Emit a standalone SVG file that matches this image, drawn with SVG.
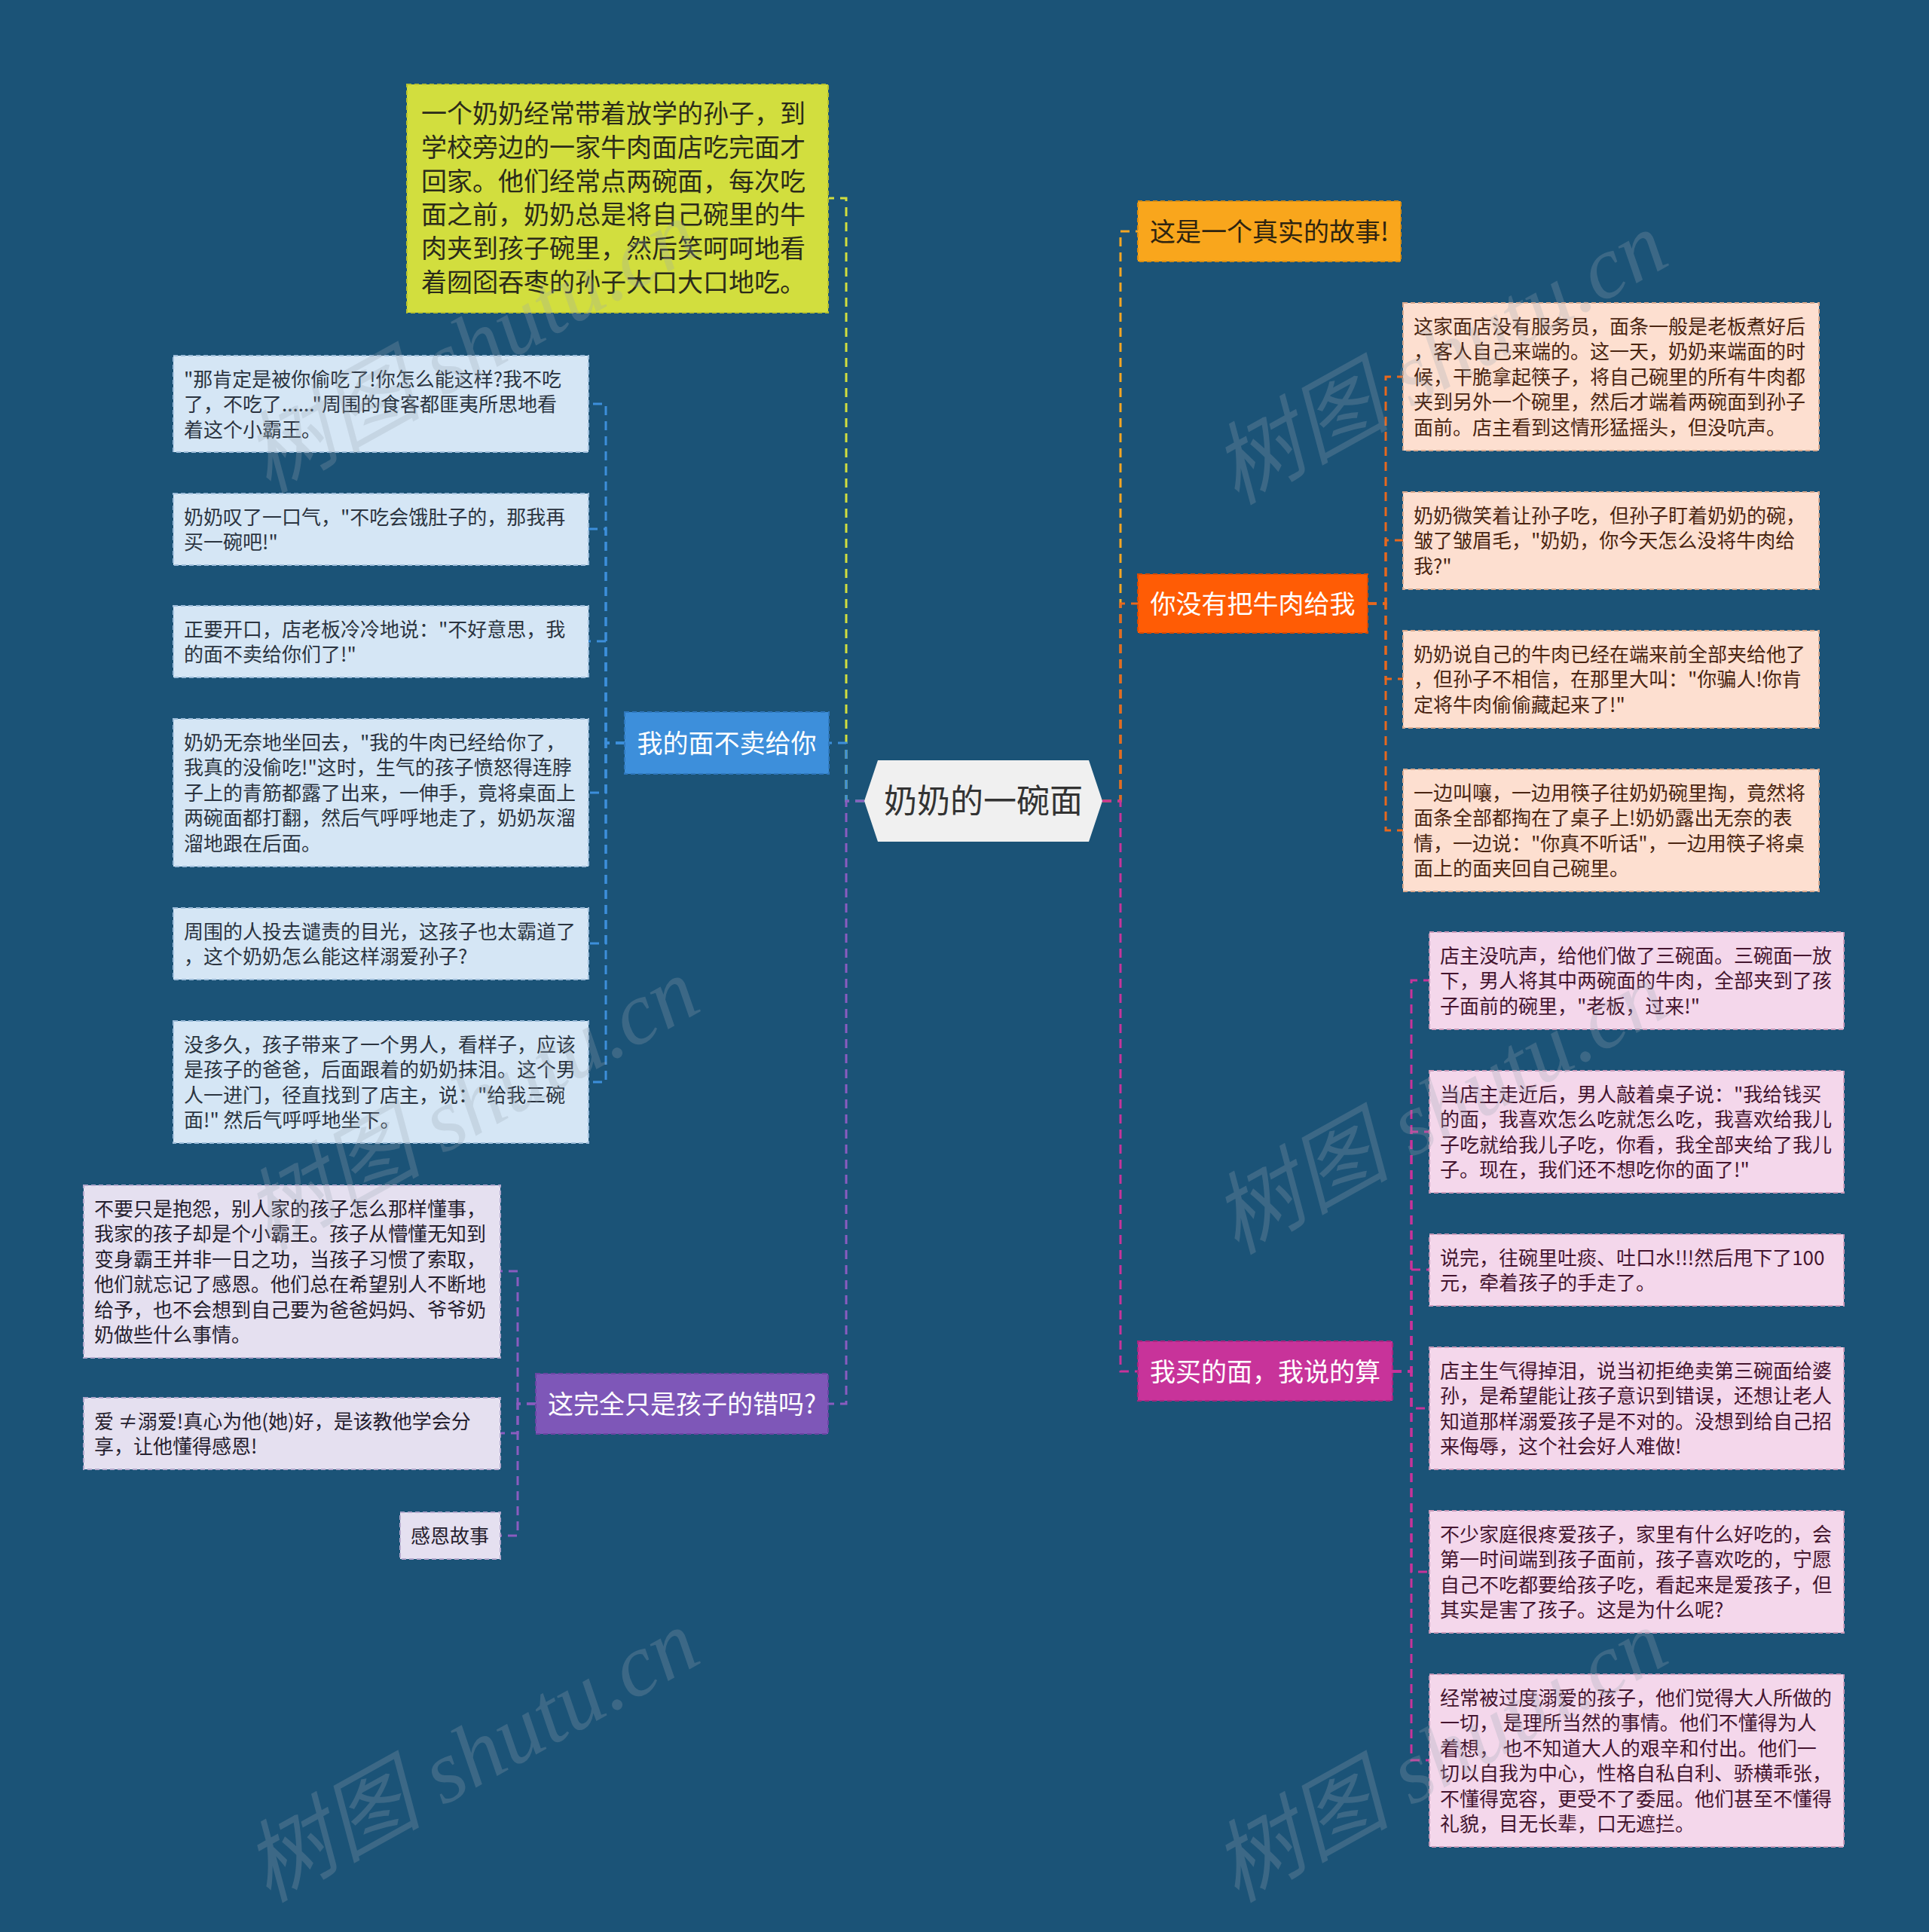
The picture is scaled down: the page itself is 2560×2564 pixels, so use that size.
<svg xmlns="http://www.w3.org/2000/svg" width="2560" height="2564" viewBox="0 0 2560 2564">
<style>
text{font-family:"Noto Sans CJK SC","Noto Sans",sans-serif;}
.leaf{font-size:26px;}
.br{font-size:34px;}
.conn path{fill:none;stroke-width:3;stroke-dasharray:12 8;}
.lb{fill:#D5E6F5;stroke:#9DBCD9;stroke-width:2;stroke-dasharray:6 4;}
.lp{fill:#FDDFD0;stroke:#D9A98E;stroke-width:2;stroke-dasharray:6 4;}
.lk{fill:#F4D7EB;stroke:#C99AB9;stroke-width:2;stroke-dasharray:6 4;}
.ll{fill:#E5E0F0;stroke:#B2A8CC;stroke-width:2;stroke-dasharray:6 4;}
.tb{fill:#2b3440;}
.tp{fill:#4a2511;}
.tk{fill:#44152f;}
.tl{fill:#25202e;}
.wm{font-family:"Liberation Serif","Noto Sans CJK SC",serif;font-size:118px;font-style:italic;fill:#9aa7b3;opacity:0.26;}
</style>
<rect width="2560" height="2564" fill="#1B5377"/>

<g id="connectors" class="conn">
  <path d="M1147,1063 H1123 V263 H1100" stroke="#D2DE3E"/>
  <path d="M1147,1063 H1123 V986 H1100" stroke="#3D8FDB"/>
  <path d="M1147,1063 H1123 V1863 H1099" stroke="#8A5CC0"/>
  <path d="M1463,1063 H1487 V307 H1510" stroke="#F5A623"/>
  <path d="M1463,1063 H1487 V801 H1510" stroke="#E8681E"/>
  <path d="M1463,1063 H1487 V1820 H1510" stroke="#C8339A"/>

  <path d="M829,986 H804 V536 H781" stroke="#3D8FDB"/>
  <path d="M829,986 H804 V702 H781" stroke="#3D8FDB"/>
  <path d="M829,986 H804 V851 H781" stroke="#3D8FDB"/>
  <path d="M829,986 H804 V1052 H781" stroke="#3D8FDB"/>
  <path d="M829,986 H804 V1252 H781" stroke="#3D8FDB"/>
  <path d="M829,986 H804 V1436 H781" stroke="#3D8FDB"/>

  <path d="M711,1863 H687 V1687 H664" stroke="#8A5CC0"/>
  <path d="M711,1863 H687 V1902 H664" stroke="#8A5CC0"/>
  <path d="M711,1863 H687 V2038 H664" stroke="#8A5CC0"/>

  <path d="M1815,801 H1839 V500 H1862" stroke="#E8681E"/>
  <path d="M1815,801 H1839 V717 H1862" stroke="#E8681E"/>
  <path d="M1815,801 H1839 V901 H1862" stroke="#E8681E"/>
  <path d="M1815,801 H1839 V1102 H1862" stroke="#E8681E"/>

  <path d="M1848,1820 H1873 V1301 H1897" stroke="#C8339A"/>
  <path d="M1848,1820 H1873 V1502 H1897" stroke="#C8339A"/>
  <path d="M1848,1820 H1873 V1685 H1897" stroke="#C8339A"/>
  <path d="M1848,1820 H1873 V1869 H1897" stroke="#C8339A"/>
  <path d="M1848,1820 H1873 V2086 H1897" stroke="#C8339A"/>
  <path d="M1848,1820 H1873 V2336 H1897" stroke="#C8339A"/>
</g>

<g id="root">
  <polygon points="1147,1063 1165,1009 1445,1009 1463,1063 1445,1117 1165,1117" fill="#F0F0F0"/>
  <text x="1305" y="1079" font-size="44" text-anchor="middle" fill="#333">奶奶的一碗面</text>
</g>

<g id="n-intro">
  <rect x="540" y="112" width="559" height="303" fill="#D2DE3E" stroke="#B8C22E" stroke-width="2" stroke-dasharray="6 4"/>
  <text class="br" fill="#2b2b1a">
    <tspan x="559" y="163">一个奶奶经常带着放学的孙子，到</tspan>
    <tspan x="559" y="208">学校旁边的一家牛肉面店吃完面才</tspan>
    <tspan x="559" y="253">回家。他们经常点两碗面，每次吃</tspan>
    <tspan x="559" y="297">面之前，奶奶总是将自己碗里的牛</tspan>
    <tspan x="559" y="342">肉夹到孩子碗里，然后笑呵呵地看</tspan>
    <tspan x="559" y="387">着囫囵吞枣的孙子大口大口地吃。</tspan>
  </text>
</g>

<g id="n-blue">
  <rect x="829" y="945" width="271" height="82" fill="#3D8FDB" stroke="#2F78BD" stroke-width="2" stroke-dasharray="6 4"/>
  <text class="br" x="964.5" y="999" text-anchor="middle" fill="#fff">我的面不卖给你</text>
</g>

<g id="n-purple">
  <rect x="711" y="1823" width="388" height="80" fill="#7E57B8" stroke="#6A45A3" stroke-width="2" stroke-dasharray="6 4"/>
  <text class="br" x="905" y="1876" text-anchor="middle" fill="#fff">这完全只是孩子的错吗?</text>
</g>

<g id="n-orange">
  <rect x="1510" y="267" width="349" height="80" fill="#F9A61C" stroke="#D98C10" stroke-width="2" stroke-dasharray="6 4"/>
  <text class="br" x="1684.5" y="320" text-anchor="middle" fill="#2e2410">这是一个真实的故事!</text>
</g>

<g id="n-red">
  <rect x="1510" y="762" width="305" height="78" fill="#FF5C05" stroke="#D84A00" stroke-width="2" stroke-dasharray="6 4"/>
  <text class="br" x="1662.5" y="814" text-anchor="middle" fill="#fff">你没有把牛肉给我</text>
</g>

<g id="n-magenta">
  <rect x="1510" y="1780" width="338" height="79" fill="#C8339A" stroke="#A8257F" stroke-width="2" stroke-dasharray="6 4"/>
  <text class="br" x="1679" y="1833" text-anchor="middle" fill="#fff">我买的面，我说的算</text>
</g>

<g id="b1"><rect class="lb" x="230" y="472" width="551" height="128"/>
<text class="leaf tb"><tspan x="244" y="513">"那肯定是被你偷吃了!你怎么能这样?我不吃</tspan><tspan x="244" y="546">了，不吃了......"周围的食客都匪夷所思地看</tspan><tspan x="244" y="580">着这个小霸王。</tspan></text></g>

<g id="b2"><rect class="lb" x="230" y="655" width="551" height="95"/>
<text class="leaf tb"><tspan x="244" y="696">奶奶叹了一口气，"不吃会饿肚子的，那我再</tspan><tspan x="244" y="729">买一碗吧!"</tspan></text></g>

<g id="b3"><rect class="lb" x="230" y="804" width="551" height="95"/>
<text class="leaf tb"><tspan x="244" y="845">正要开口，店老板冷冷地说："不好意思，我</tspan><tspan x="244" y="878">的面不卖给你们了!"</tspan></text></g>

<g id="b4"><rect class="lb" x="230" y="954" width="551" height="196"/>
<text class="leaf tb"><tspan x="244" y="995">奶奶无奈地坐回去，"我的牛肉已经给你了，</tspan><tspan x="244" y="1028">我真的没偷吃!"这时，生气的孩子愤怒得连脖</tspan><tspan x="244" y="1062">子上的青筋都露了出来，一伸手，竟将桌面上</tspan><tspan x="244" y="1095">两碗面都打翻，然后气呼呼地走了，奶奶灰溜</tspan><tspan x="244" y="1129">溜地跟在后面。</tspan></text></g>

<g id="b5"><rect class="lb" x="230" y="1205" width="551" height="95"/>
<text class="leaf tb"><tspan x="244" y="1246">周围的人投去谴责的目光，这孩子也太霸道了</tspan><tspan x="244" y="1279">，这个奶奶怎么能这样溺爱孙子?</tspan></text></g>

<g id="b6"><rect class="lb" x="230" y="1355" width="551" height="162"/>
<text class="leaf tb"><tspan x="244" y="1396">没多久，孩子带来了一个男人，看样子，应该</tspan><tspan x="244" y="1429">是孩子的爸爸，后面跟着的奶奶抹泪。这个男</tspan><tspan x="244" y="1463">人一进门，径直找到了店主，说："给我三碗</tspan><tspan x="244" y="1496">面!" 然后气呼呼地坐下。</tspan></text></g>

<g id="l1"><rect class="ll" x="111" y="1573" width="553" height="229"/>
<text class="leaf tl"><tspan x="125" y="1614">不要只是抱怨，别人家的孩子怎么那样懂事，</tspan><tspan x="125" y="1647">我家的孩子却是个小霸王。孩子从懵懂无知到</tspan><tspan x="125" y="1681">变身霸王并非一日之功，当孩子习惯了索取，</tspan><tspan x="125" y="1714">他们就忘记了感恩。他们总在希望别人不断地</tspan><tspan x="125" y="1748">给予，也不会想到自己要为爸爸妈妈、爷爷奶</tspan><tspan x="125" y="1781">奶做些什么事情。</tspan></text></g>

<g id="l2"><rect class="ll" x="111" y="1855" width="553" height="95"/>
<text class="leaf tl"><tspan x="125" y="1896">爱 ≠溺爱!真心为他(她)好，是该教他学会分</tspan><tspan x="125" y="1929">享，让他懂得感恩!</tspan></text></g>

<g id="l3"><rect class="ll" x="531" y="2007" width="133" height="62"/>
<text class="leaf tl" x="545" y="2048">感恩故事</text></g>

<g id="p1"><rect class="lp" x="1862" y="402" width="552" height="196"/>
<text class="leaf tp"><tspan x="1876" y="443">这家面店没有服务员，面条一般是老板煮好后</tspan><tspan x="1876" y="476">，客人自己来端的。这一天，奶奶来端面的时</tspan><tspan x="1876" y="510">候，干脆拿起筷子，将自己碗里的所有牛肉都</tspan><tspan x="1876" y="543">夹到另外一个碗里，然后才端着两碗面到孙子</tspan><tspan x="1876" y="577">面前。店主看到这情形猛摇头，但没吭声。</tspan></text></g>

<g id="p2"><rect class="lp" x="1862" y="653" width="552" height="129"/>
<text class="leaf tp"><tspan x="1876" y="694">奶奶微笑着让孙子吃，但孙子盯着奶奶的碗，</tspan><tspan x="1876" y="727">皱了皱眉毛，"奶奶，你今天怎么没将牛肉给</tspan><tspan x="1876" y="761">我?"</tspan></text></g>

<g id="p3"><rect class="lp" x="1862" y="837" width="552" height="129"/>
<text class="leaf tp"><tspan x="1876" y="878">奶奶说自己的牛肉已经在端来前全部夹给他了</tspan><tspan x="1876" y="911">，但孙子不相信，在那里大叫："你骗人!你肯</tspan><tspan x="1876" y="945">定将牛肉偷偷藏起来了!"</tspan></text></g>

<g id="p4"><rect class="lp" x="1862" y="1021" width="552" height="162"/>
<text class="leaf tp"><tspan x="1876" y="1062">一边叫嚷，一边用筷子往奶奶碗里掏，竟然将</tspan><tspan x="1876" y="1095">面条全部都掏在了桌子上!奶奶露出无奈的表</tspan><tspan x="1876" y="1129">情，一边说："你真不听话"，一边用筷子将桌</tspan><tspan x="1876" y="1162">面上的面夹回自己碗里。</tspan></text></g>

<g id="k1"><rect class="lk" x="1897" y="1237" width="550" height="129"/>
<text class="leaf tk"><tspan x="1911" y="1278">店主没吭声，给他们做了三碗面。三碗面一放</tspan><tspan x="1911" y="1311">下，男人将其中两碗面的牛肉，全部夹到了孩</tspan><tspan x="1911" y="1345">子面前的碗里，"老板，过来!"</tspan></text></g>

<g id="k2"><rect class="lk" x="1897" y="1421" width="550" height="162"/>
<text class="leaf tk"><tspan x="1911" y="1462">当店主走近后，男人敲着桌子说："我给钱买</tspan><tspan x="1911" y="1495">的面，我喜欢怎么吃就怎么吃，我喜欢给我儿</tspan><tspan x="1911" y="1529">子吃就给我儿子吃，你看，我全部夹给了我儿</tspan><tspan x="1911" y="1562">子。现在，我们还不想吃你的面了!"</tspan></text></g>

<g id="k3"><rect class="lk" x="1897" y="1638" width="550" height="95"/>
<text class="leaf tk"><tspan x="1911" y="1679">说完，往碗里吐痰、吐口水!!!然后甩下了100</tspan><tspan x="1911" y="1712">元，牵着孩子的手走了。</tspan></text></g>

<g id="k4"><rect class="lk" x="1897" y="1788" width="550" height="162"/>
<text class="leaf tk"><tspan x="1911" y="1829">店主生气得掉泪，说当初拒绝卖第三碗面给婆</tspan><tspan x="1911" y="1862">孙，是希望能让孩子意识到错误，还想让老人</tspan><tspan x="1911" y="1896">知道那样溺爱孩子是不对的。没想到给自己招</tspan><tspan x="1911" y="1929">来侮辱，这个社会好人难做!</tspan></text></g>

<g id="k5"><rect class="lk" x="1897" y="2005" width="550" height="162"/>
<text class="leaf tk"><tspan x="1911" y="2046">不少家庭很疼爱孩子，家里有什么好吃的，会</tspan><tspan x="1911" y="2079">第一时间端到孩子面前，孩子喜欢吃的，宁愿</tspan><tspan x="1911" y="2113">自己不吃都要给孩子吃，看起来是爱孩子，但</tspan><tspan x="1911" y="2146">其实是害了孩子。这是为什么呢?</tspan></text></g>

<g id="k6"><rect class="lk" x="1897" y="2222" width="550" height="229"/>
<text class="leaf tk" xml:space="preserve"><tspan x="1911" y="2263">经常被过度溺爱的孩子，他们觉得大人所做的</tspan><tspan x="1911" y="2296">一切， 是理所当然的事情。他们不懂得为人</tspan><tspan x="1911" y="2330">着想， 也不知道大人的艰辛和付出。他们一</tspan><tspan x="1911" y="2363">切以自我为中心，性格自私自利、骄横乖张，</tspan><tspan x="1911" y="2397">不懂得宽容，更受不了委屈。他们甚至不懂得</tspan><tspan x="1911" y="2430">礼貌，目无长辈，口无遮拦。</tspan></text></g>

<g id="watermarks">
  <text class="wm" transform="translate(645,495) rotate(-29)" text-anchor="middle">树图 shutu.cn</text>
  <text class="wm" transform="translate(1930,510) rotate(-29)" text-anchor="middle">树图 shutu.cn</text>
  <text class="wm" transform="translate(645,1500) rotate(-29)" text-anchor="middle">树图 shutu.cn</text>
  <text class="wm" transform="translate(1930,1505) rotate(-29)" text-anchor="middle">树图 shutu.cn</text>
  <text class="wm" transform="translate(645,2365) rotate(-29)" text-anchor="middle">树图 shutu.cn</text>
  <text class="wm" transform="translate(1930,2365) rotate(-29)" text-anchor="middle">树图 shutu.cn</text>
</g>
</svg>
